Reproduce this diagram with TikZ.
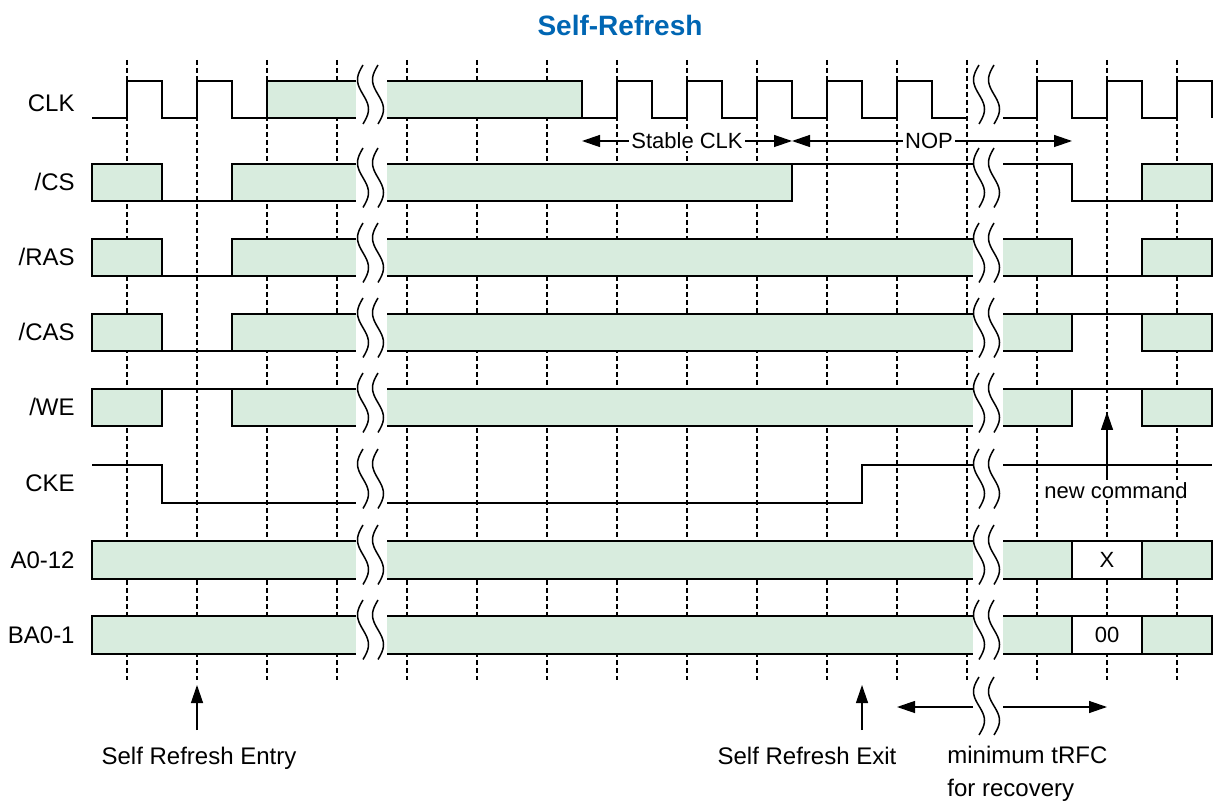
\documentclass[tikz,border=0pt]{standalone}
\usepackage{fontspec}
\setmainfont{Liberation Sans}
\usepackage{tikz}
\usetikzlibrary{arrows.meta}
\definecolor{busgreen}{RGB}{216,236,222}
\definecolor{titleblue}{RGB}{0,102,179}
\newcommand{\sigbreak}[3]{%
  \draw[wave] plot[domain=0:1,samples=25,smooth] ({#1-5.5*sin(360*\x)},{(#2)+((#3)-(#2))*\x});}
\begin{document}
\begin{tikzpicture}[x=0.5pt,y=-0.5pt,
    sig/.style={line width=1pt},
    bus/.style={sig,fill=busgreen},
    tickline/.style={line width=1pt,dash pattern=on 2.3pt off 1.7pt},
    wave/.style={line width=0.75pt},
    lbl/.style={anchor=base east,inner sep=0pt,font=\fontsize{12}{14}\selectfont},
    txt/.style={inner sep=0pt,font=\fontsize{12}{14}\selectfont},
    note/.style={fill=white,inner sep=1pt,font=\fontsize{11}{13}\selectfont},
    cell/.style={draw,fill=white,line width=1pt,minimum width=35pt,minimum height=18.75pt,inner sep=0pt,font=\fontsize{11}{13}\selectfont},
    arr/.style={line width=0.65pt,>={Triangle[length=9pt,width=6pt]}}]
    \useasboundingbox (0,0) rectangle (1214,806);

    \node[anchor=base,text=titleblue,font=\fontsize{14}{16}\selectfont\bfseries] (title) at (620,36) {Self-Refresh};

    \node[lbl] (lclk) at (75,112) {CLK};
    \node[lbl] (lcs) at (75,191) {/CS};
    \node[lbl] (lras) at (75,266) {/RAS};
    \node[lbl] (lcas) at (75,341) {/CAS};
    \node[lbl] (lwe) at (75,416) {/WE};
    \node[lbl] (lcke) at (75,492) {CKE};
    \node[lbl] (laddr) at (75,568) {A0-12};
    \node[lbl] (lbank) at (75,643) {BA0-1};

    \foreach \k in {0,...,15}
        \draw[tickline] ({127+70*\k},60) -- ({127+70*\k},680);

    \draw[sig] (92,118) \foreach \t in {127,197} {-- (\t,118) -- (\t,81) -- (\t+35,81) -- (\t+35,118)} -- (267,118);
    \filldraw[bus] (356,81) -- (267,81) -- (267,118) -- (356,118);
    \filldraw[bus] (387,81) -- (582,81) -- (582,118) -- (387,118);
    \draw[sig] (582,118) \foreach \t in {617,687,757,827,897} {-- (\t,118) -- (\t,81) -- (\t+35,81) -- (\t+35,118)} -- (967,118);
    \draw[sig] (1003,118) \foreach \t in {1037,1107} {-- (\t,118) -- (\t,81) -- (\t+35,81) -- (\t+35,118)} -- (1177,118) -- (1177,81) -- (1212,81) -- (1212,118);

    \filldraw[bus] (92,164) rectangle (162,201.5);
    \draw[sig] (162,201.5) -- (232,201.5);
    \filldraw[bus] (356,164) -- (232,164) -- (232,201.5) -- (356,201.5);
    \filldraw[bus] (387,164) -- (792,164) -- (792,201.5) -- (387,201.5);
    \draw[sig] (792,164) -- (973,164) (1003,164) -- (1072,164) -- (1072,201.5) -- (1142,201.5);
    \filldraw[bus] (1142,164) rectangle (1212,201.5);

    \foreach \t/\a/\b in {239/1/1,314/1/0,389/0/0} {
        \filldraw[bus] (92,\t) rectangle (162,\t+37.5);
        \draw[sig] (162,\t+37.5*\a) -- (232,\t+37.5*\a);
        \filldraw[bus] (356,\t) -- (232,\t) -- (232,\t+37.5) -- (356,\t+37.5);
        \fill[busgreen] (387,\t) rectangle (973,\t+37.5);
        \draw[sig] (387,\t) -- (973,\t) (387,\t+37.5) -- (973,\t+37.5);
        \filldraw[bus] (1003,\t) -- (1072,\t) -- (1072,\t+37.5) -- (1003,\t+37.5);
        \draw[sig] (1072,\t+37.5*\b) -- (1142,\t+37.5*\b);
        \filldraw[bus] (1142,\t) rectangle (1212,\t+37.5);
    }

    \draw[sig] (92,465) -- (162,465) -- (162,502.5) -- (356,502.5)
        (387,502.5) -- (862,502.5) -- (862,465) -- (973,465)
        (1003,465) -- (1212,465);

    \foreach \t/\n/\v in {541/addr/X,616/bank/00} {
        \filldraw[bus] (356,\t) -- (92,\t) -- (92,\t+37.5) -- (356,\t+37.5);
        \fill[busgreen] (387,\t) rectangle (973,\t+37.5);
        \draw[sig] (387,\t) -- (973,\t) (387,\t+37.5) -- (973,\t+37.5);
        \filldraw[bus] (1003,\t) -- (1072,\t) -- (1072,\t+37.5) -- (1003,\t+37.5);
        \node[cell] (\n cell) at (1107,\t+18.75) {\v};
        \filldraw[bus] (1142,\t) rectangle (1212,\t+37.5);
    }

    \foreach \t/\b in {81/118,164/201.5,239/276.5,314/351.5,389/426.5,465/502.5,541/578.5,616/653.5} {
        \sigbreak{363}{\t-16}{\b+6}
        \sigbreak{378}{\t-16}{\b+6}
        \sigbreak{979}{\t-16}{\b+6}
        \sigbreak{994}{\t-16}{\b+6}
    }
    \sigbreak{979}{677}{735}
    \sigbreak{994}{677}{735}

    \coordinate (sclk l) at (582,141);
    \coordinate (sclk r) at (792,141);
    \coordinate (nop r) at (1072,141);
    \node[note] (stable) at (687,141) {Stable CLK};
    \node[note] (nop) at (929,141) {NOP};
    \draw[arr,->] (stable) -- (sclk l);
    \draw[arr,->] (stable) -- (sclk r);
    \draw[arr,->] (nop) -- (sclk r);
    \draw[arr,->] (nop) -- (nop r);

    \node[note,anchor=base] (newcmd) at (1116,498) {new command};
    \coordinate (cmd tip) at (1107,412);
    \draw[arr,->] (newcmd.north -| cmd tip) -- (cmd tip);

    \node[txt,anchor=base] (entry) at (199,764) {Self Refresh Entry};
    \coordinate (entry tail) at (197,730);
    \coordinate (entry tip) at (197,685);
    \draw[arr,->] (entry tail) -- (entry tip);

    \node[txt,anchor=base] (exit) at (807,764) {Self Refresh Exit};
    \coordinate (exit tail) at (862,730);
    \coordinate (exit tip) at (862,685);
    \draw[arr,->] (exit tail) -- (exit tip);

    \coordinate (rfc l) at (897,707);
    \coordinate (rfc bl) at (973,707);
    \coordinate (rfc br) at (1003,707);
    \coordinate (rfc r) at (1107,707);
    \draw[arr,->] (rfc bl) -- (rfc l);
    \draw[arr,->] (rfc br) -- (rfc r);
    \node[txt,anchor=base west] (rfc1) at (947,763) {minimum tRFC};
    \node[txt,anchor=base west] (rfc2) at (947,796) {for recovery};
\end{tikzpicture}
\end{document}
